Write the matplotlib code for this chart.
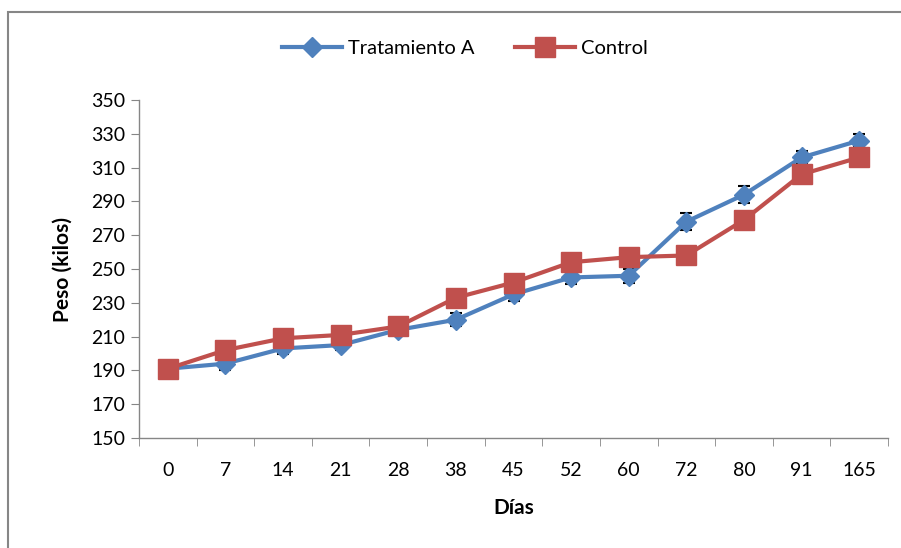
import matplotlib.pyplot as plt
from matplotlib.patches import Rectangle
import numpy as np

# data
dias = ['0', '7', '14', '21', '28', '38', '45', '52', '60', '72', '80', '91', '165']
tratamiento_a = [191, 194, 203, 205, 214, 220, 235, 245, 246, 278, 294, 316, 326]
error_a = [3, 4, 3, 3, 3, 4, 4, 4, 4, 5, 5, 4, 4]
control = [191, 202, 209, 211, 216, 233, 242, 254, 257, 258, 279, 306, 316]

plt.rcParams['font.family'] = ['Lato', 'DejaVu Sans']

fig = plt.figure(figsize=(9.01, 5.48), dpi=100)
ax = fig.add_axes([139/901, 110/548, 749/901, 338/548])

# outer frame of the chart area
fig.patches.append(Rectangle((8/901, -0.1), 1.2, 1.1 - 12/548, transform=fig.transFigure,
                             fill=False, edgecolor='#868686', linewidth=1.5))

x = np.arange(len(dias))
blue = '#4F81BD'
red = '#C0504D'

ax.errorbar(x, tratamiento_a, yerr=error_a, fmt='none', ecolor='black',
            elinewidth=1.2, capsize=4, capthick=1.5, zorder=2)
ax.plot(x, tratamiento_a, color=blue, linewidth=3, marker='D', markersize=10.5,
        label='Tratamiento A', zorder=3)
ax.plot(x, control, color=red, linewidth=3, marker='s', markersize=14,
        label='Control', zorder=4)

ax.set_xlim(-0.5, len(dias) - 0.5)
ax.set_ylim(150, 350)
ax.set_yticks(range(150, 351, 20))
ax.set_xticks(x)
ax.set_xticklabels(dias)
ax.set_xticks(np.arange(-0.5, len(dias)), minor=True)

for s in ['top', 'right']:
    ax.spines[s].set_visible(False)
for s in ['left', 'bottom']:
    ax.spines[s].set_color('#868686')
    ax.spines[s].set_linewidth(1)

ax.tick_params(axis='y', which='major', length=6, color='#868686', labelsize=14, pad=4)
ax.tick_params(axis='x', which='major', length=0, labelsize=14, pad=17)
ax.tick_params(axis='x', which='minor', length=6, color='#868686')

ax.set_ylabel('Peso (kilos)', fontsize=15, fontweight='bold', labelpad=13)
ax.set_xlabel('Días', fontsize=15, fontweight='bold', labelpad=14)

leg = fig.legend(loc='center', bbox_to_anchor=(465/901, 1 - 48/548), ncol=2, frameon=False,
                 fontsize=14.5, handlelength=3, columnspacing=2, handletextpad=0.3)

fig.savefig('out.png', dpi=100)
